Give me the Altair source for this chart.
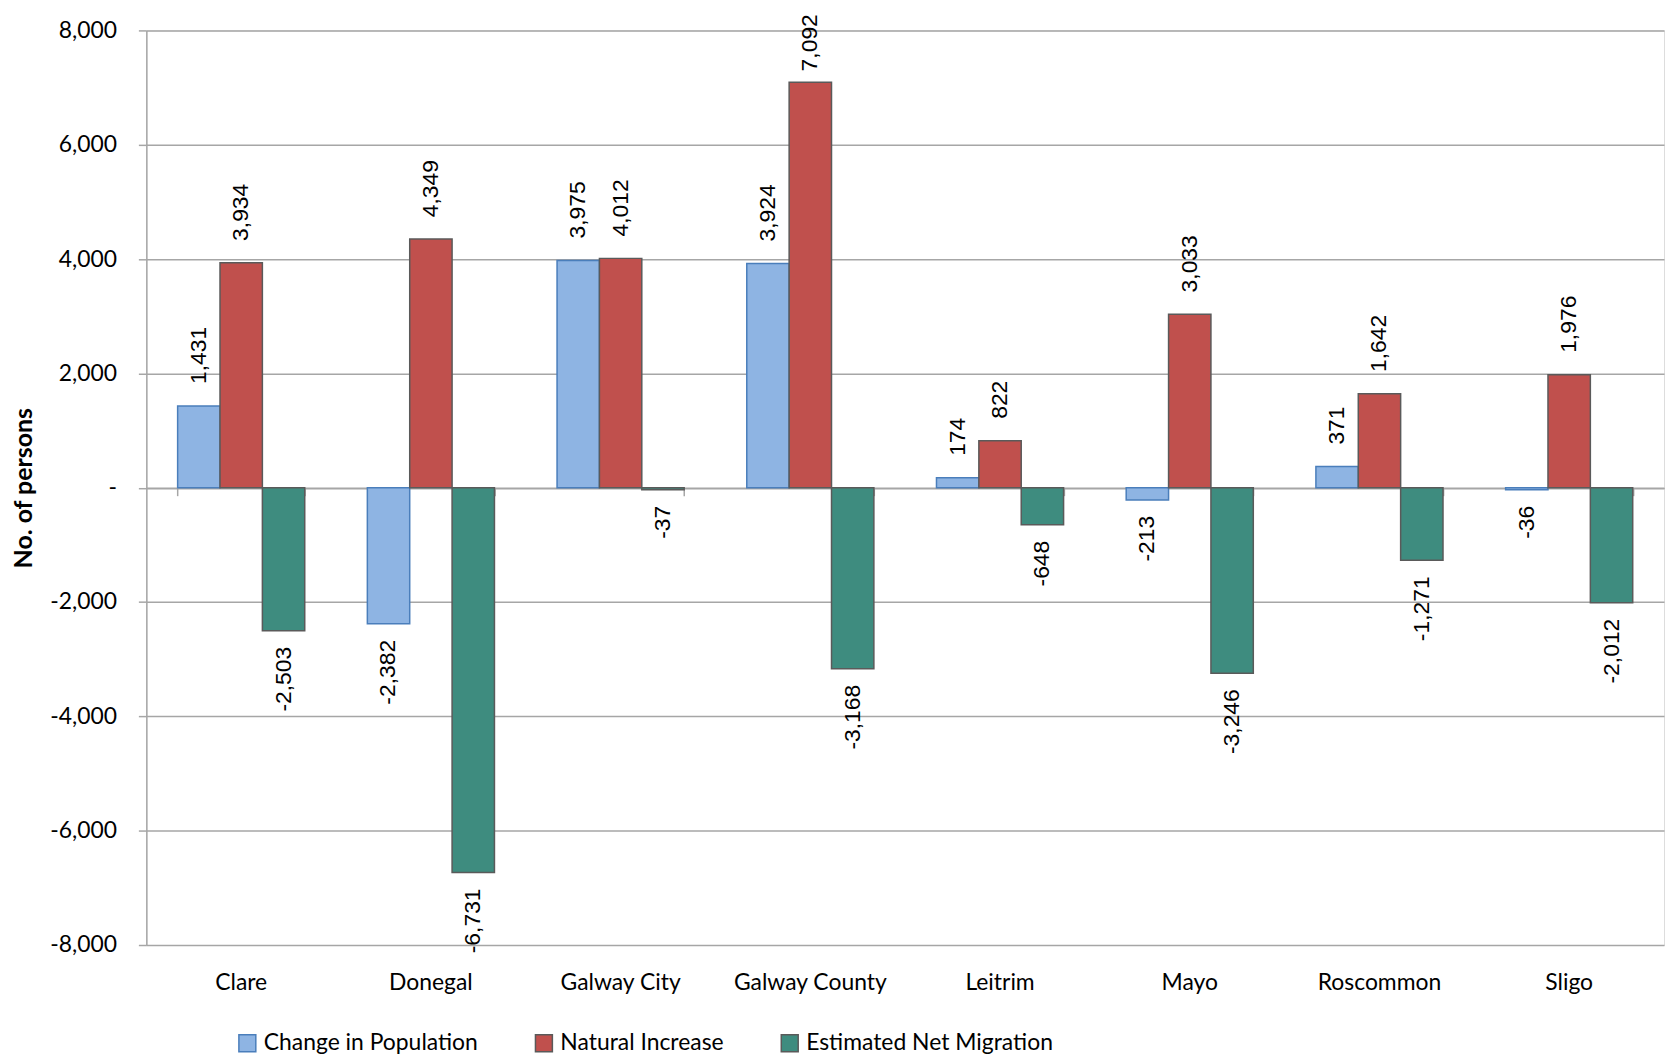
import altair as alt
import pandas as pd

counties = ["Clare", "Donegal", "Galway City", "Galway County", "Leitrim", "Mayo", "Roscommon", "Sligo"]
series = ["Change in Population", "Natural Increase", "Estimated Net Migration"]
change = [1431, -2382, 3975, 3924, 174, -213, 371, -36]
natural = [3934, 4349, 4012, 7092, 822, 3033, 1642, 1976]
migration = [-2503, -6731, -37, -3168, -648, -3246, -1271, -2012]
y_ticks = [-8000, -6000, -4000, -2000, 0, 2000, 4000, 6000, 8000]

fills = ["#8EB4E3", "#C0504D", "#3E8C7F"]
strokes = ["#4A7EBB", "#5A5A5A", "#5A5A5A"]

# labels are kept inside the chart area (as the spreadsheet does) by clamping their anchor
LABEL_MAX = 6900

rows = []
for name, vals in zip(series, [change, natural, migration]):
    for c, v in zip(counties, vals):
        rows.append({"county": c, "series": name, "value": v})
df = pd.DataFrame(rows)

W, H = 1525, 919
GRID = "#A6A6A6"

x_scale = alt.Scale(paddingInner=0.33, paddingOuter=0.165)
xoff = alt.XOffset("series:N", sort=series, scale=alt.Scale(paddingInner=0, paddingOuter=0))
y_scale = alt.Scale(domain=[-8000, 8000], nice=False)

legend = alt.Legend(
    title=None, orient="none", direction="horizontal", legendX=90, legendY=1006,
    symbolType="square", symbolSize=289, symbolStrokeWidth=1.5,
    labelFont="Lato", labelFontSize=23, labelColor="black", labelOffset=5,
    labelLimit=0, columnPadding=54,
)

bars = alt.Chart(df).mark_bar(strokeWidth=1.5).encode(
    x=alt.X("county:N", sort=counties, scale=x_scale,
            axis=alt.Axis(title=None, orient="bottom", labelAngle=0, ticks=False, domain=False,
                          grid=False, labelFont="Lato", labelFontSize=23, labelColor="black",
                          labelPadding=27)),
    xOffset=xoff,
    y=alt.Y("value:Q", scale=y_scale,
            axis=alt.Axis(values=y_ticks,
                          labelExpr="datum.value == 0 ? '-' : replace(format(datum.value, ','), '\u2212', '-')",
                          gridColor=GRID, gridWidth=1.5, domainColor=GRID, domainWidth=1.5,
                          tickColor=GRID, tickWidth=1.5, tickSize=8, labelPadding=22,
                          labelFont="Lato", labelFontSize=23, labelColor="black",
                          title="No. of persons", titleFont="Lato", titleFontSize=25,
                          titleFontWeight="bold", titleColor="black", titleX=-123, titleY=459.5,
                          titleAngle=270, titleAlign="center", titleBaseline="middle")),
    fill=alt.Fill("series:N", sort=series, scale=alt.Scale(domain=series, range=fills), legend=legend),
    stroke=alt.Stroke("series:N", sort=series, scale=alt.Scale(domain=series, range=strokes), legend=legend),
)

base_text = alt.Chart(df).transform_calculate(
    label="replace(format(datum.value, ','), '\u2212', '-')",
    anchor=f"min(datum.value, {LABEL_MAX})",
)

pos_text = base_text.transform_filter("datum.value >= 0").mark_text(
    angle=270, align="left", baseline="middle", dx=22, font="Liberation Sans", fontSize=23, color="black"
).encode(
    x=alt.X("county:N", sort=counties, scale=x_scale,
            axis=alt.Axis(title=None, orient="bottom", offset=-459.5, labels=False, grid=False,
                          domainColor=GRID, domainWidth=1.5, tickColor=GRID, tickWidth=1.5,
                          tickSize=8, tickBand="extent")),
    xOffset=xoff,
    y=alt.Y("anchor:Q", scale=y_scale),
    text=alt.Text("label:N"),
)

neg_text = base_text.transform_filter("datum.value < 0").mark_text(
    angle=270, align="right", baseline="middle", dx=-16, font="Liberation Sans", fontSize=23, color="black"
).encode(
    x=alt.X("county:N", sort=counties, scale=x_scale, axis=None),
    xOffset=xoff,
    y=alt.Y("value:Q", scale=y_scale),
    text=alt.Text("label:N"),
)

chart = alt.layer(bars, pos_text, neg_text).resolve_axis(x="independent").properties(
    width=W, height=H,
    autosize=alt.AutoSizeParams(type="none"),
    padding={"left": 139, "top": 20, "right": 5, "bottom": 108},
).configure_view(stroke=None).configure(background="white")

chart.save("out.html", embed_options={"renderer": "svg", "actions": False})
